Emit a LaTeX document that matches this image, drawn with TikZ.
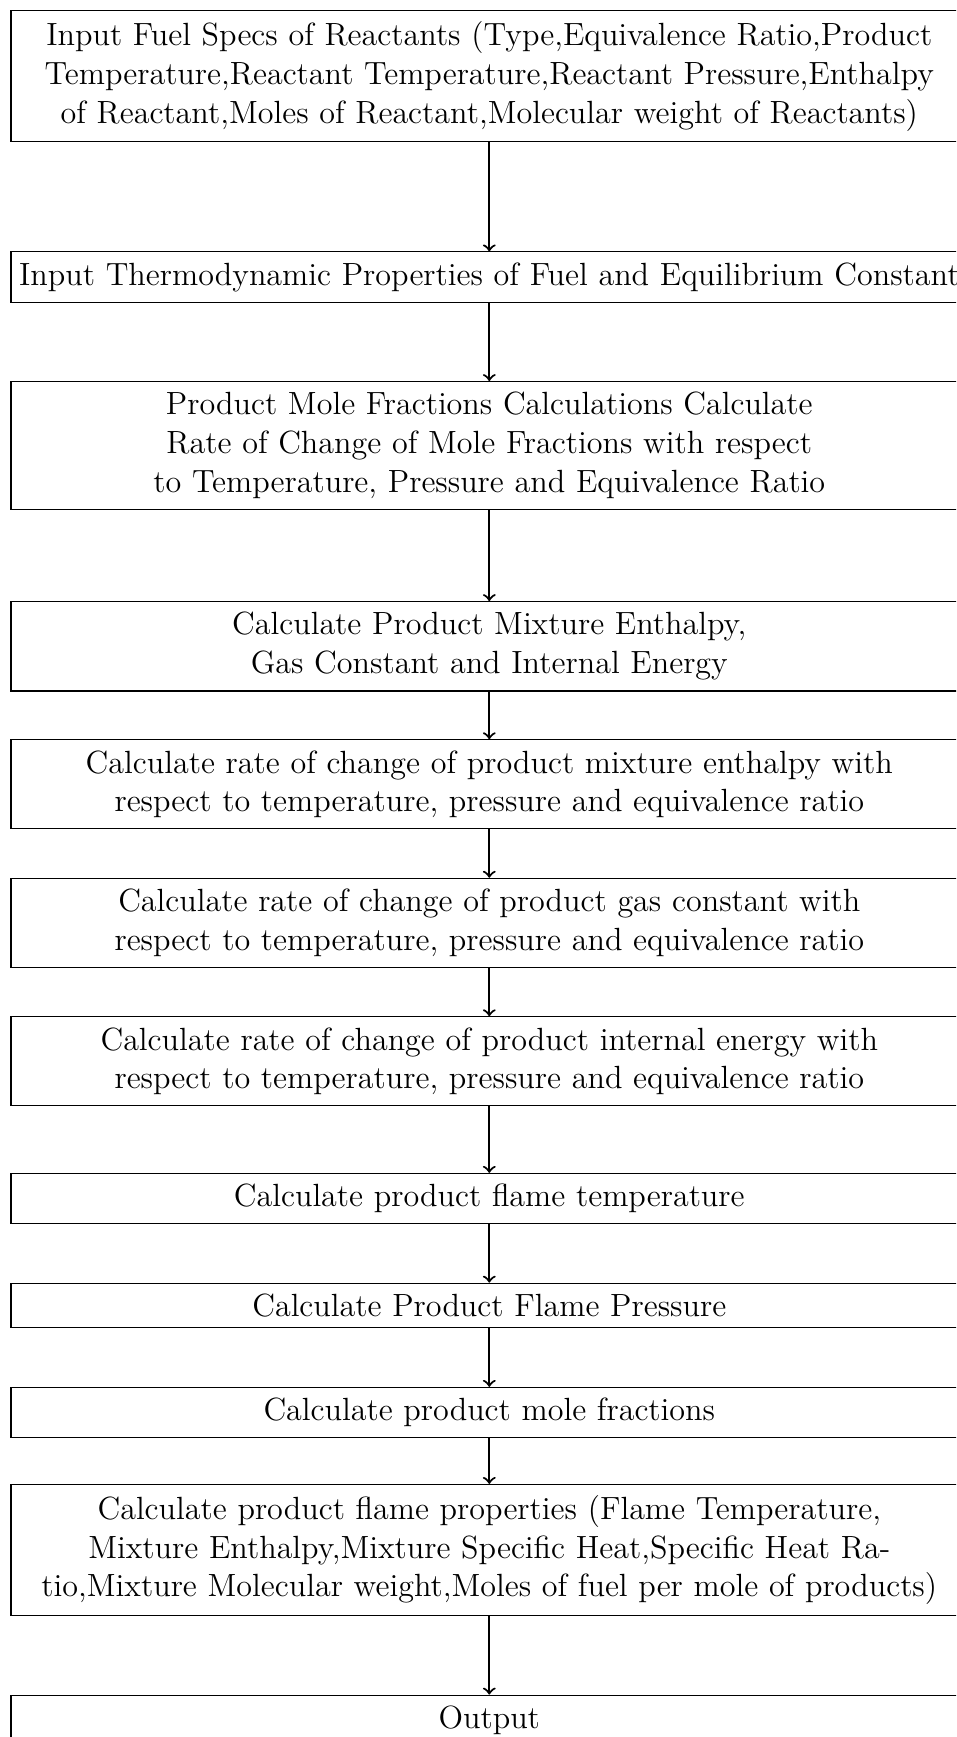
\documentclass[tikz,border=0pt]{standalone}
\begin{document}
\begin{tikzpicture}[x=0.3737pt,y=-0.3737pt,
  box/.style={draw,thin,text width=349.5pt,align=center,inner sep=4pt,font=\fontsize{12}{14.5}\selectfont},
  flow/.style={->,thick}]
\useasboundingbox (0,0) rectangle (956,1737);
\clip (0,0) rectangle (956,1737);
\node[box] (b1) at (489.3,76.2) {Input Fuel Specs of Reactants (Type,Equivalence Ratio,Product\\Temperature,Reactant Temperature,Reactant Pressure,Enthalpy\\of Reactant,Moles of Reactant,Molecular weight of Reactants)};
\node[box] (b2) at (489.3,277.2) {\makebox[349.5pt][c]{Input Thermodynamic Properties of Fuel and Equilibrium Constant}};
\node[box] (b3) at (489.3,445.5) {Product Mole Fractions Calculations Calculate\\Rate of Change of Mole Fractions with respect\\to Temperature, Pressure and Equivalence Ratio};
\node[box] (b4) at (489.3,646.3) {Calculate Product Mixture Enthalpy,\\Gas Constant and Internal Energy};
\node[box] (b5) at (489.3,784.3) {Calculate rate of change of product mixture enthalpy with\\respect to temperature, pressure and equivalence ratio};
\node[box] (b6) at (489.3,922.8) {Calculate rate of change of product gas constant with\\respect to temperature, pressure and equivalence ratio};
\node[box] (b7) at (489.3,1061.3) {Calculate rate of change of product internal energy with\\respect to temperature, pressure and equivalence ratio};
\node[box] (b8) at (489.3,1198.5) {Calculate product flame temperature};
\node[box] (b9) at (489.3,1305.5) {Calculate Product Flame Pressure};
\node[box] (b10) at (489.3,1412.5) {Calculate product mole fractions};
\node[box] (b11) at (489.3,1550) {Calculate product flame properties (Flame Temperature,\\Mixture Enthalpy,Mixture Specific Heat,Specific Heat Ra-\\tio,Mixture Molecular weight,Moles of fuel per mole of products)};
\node[box] (b12) at (489.3,1720.2) {Output};
\foreach \a/\b in {b1/b2,b2/b3,b3/b4,b4/b5,b5/b6,b6/b7,b7/b8,b8/b9,b9/b10,b10/b11,b11/b12}
  \draw[flow] (\a) -- (\b);
\end{tikzpicture}
\end{document}
